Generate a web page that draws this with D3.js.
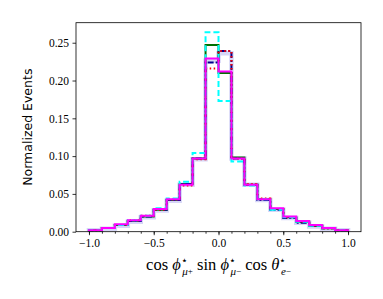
<!DOCTYPE html>
<html>
<head>
<meta charset="utf-8">
<script src="https://cdn.jsdelivr.net/npm/d3@7"></script>
<style>
  body { margin: 0; background: #fff; }
  svg text { fill: #000; }
  .serif { font-family: "Liberation Serif", "DejaVu Serif", serif; }
</style>
</head>
<body>
<div id="chart"></div>
<script>
// Histogram bins: 20 equal bins from -1 to 1
const binEdges = d3.range(21).map(i => -1 + i * 0.1);

// Normalized counts per bin, one array per sample
const greenVals   = [0.002, 0.005, 0.009, 0.014, 0.020, 0.029, 0.042, 0.063, 0.097, 0.247, 0.210, 0.098, 0.062, 0.043, 0.030, 0.019, 0.013, 0.008, 0.0045, 0.002];
const navyVals    = [0.002, 0.005, 0.009, 0.014, 0.020, 0.029, 0.042, 0.063, 0.097, 0.224, 0.239, 0.097, 0.062, 0.042, 0.029, 0.018, 0.012, 0.008, 0.0045, 0.002];
const redVals     = [0.002, 0.005, 0.009, 0.015, 0.021, 0.029, 0.043, 0.061, 0.096, 0.216, 0.239, 0.097, 0.063, 0.044, 0.030, 0.019, 0.013, 0.008, 0.0045, 0.002];
const cyanVals    = [0.002, 0.005, 0.009, 0.015, 0.021, 0.031, 0.044, 0.066, 0.104, 0.264, 0.173, 0.093, 0.061, 0.043, 0.029, 0.019, 0.013, 0.008, 0.005, 0.002];
const magentaVals = [0.002, 0.005, 0.010, 0.015, 0.021, 0.030, 0.043, 0.062, 0.097, 0.229, 0.212, 0.097, 0.062, 0.043, 0.031, 0.020, 0.014, 0.009, 0.005, 0.002];
const haloVals    = [0.002, 0.004, 0.008, 0.013, 0.019, 0.028, 0.041, 0.062, 0.096, 0.226, 0.236, 0.097, 0.062, 0.042, 0.029, 0.018, 0.012, 0.007, 0.004, 0.002];

const xTicks = [-1.0, -0.5, 0.0, 0.5, 1.0];
const xMinorTicks = d3.range(-10, 11).map(i => i / 10);
const yTicks = [0.00, 0.05, 0.10, 0.15, 0.20, 0.25];

// Figure layout
const width = 383, height = 299;
const margin = { top: 22.7, right: 22, bottom: 67.3, left: 76 };

const series = [
    { vals: haloVals,    color: "#b4b4f0", width: 4.5, dash: null,      opacity: 0.55 },
    { vals: greenVals,   color: "#007000", width: 2,   dash: null,      opacity: 1 },
    { vals: navyVals,    color: "#00008b", width: 2,   dash: "6,2,2,2", opacity: 1 },
    { vals: redVals,     color: "#ff0000", width: 2,   dash: "1.5,2.5", opacity: 1 },
    { vals: cyanVals,    color: "#00ffff", width: 2,   dash: "6,3",     opacity: 1 },
    { vals: magentaVals, color: "#ff00ff", width: 2,   dash: null,      opacity: 1 }
];

const svg = d3.select("#chart").append("svg")
    .attr("width", width)
    .attr("height", height);

const x = d3.scaleLinear()
    .domain([-1.1, 1.1])
    .range([margin.left, width - margin.right]);

const y = d3.scaleLinear()
    .domain([0, 0.2765])
    .range([height - margin.bottom, margin.top]);

svg.append("clipPath").attr("id", "clip")
    .append("rect")
    .attr("x", margin.left).attr("y", margin.top)
    .attr("width", width - margin.left - margin.right)
    .attr("height", height - margin.top - margin.bottom);

// step outline like histtype='step'
function stepPoints(vals) {
    const pts = [[binEdges[0], 0]];
    vals.forEach((v, i) => {
        pts.push([binEdges[i], v]);
        pts.push([binEdges[i + 1], v]);
    });
    pts.push([binEdges[binEdges.length - 1], 0]);
    return pts;
}

const line = d3.line()
    .x(d => x(d[0]))
    .y(d => y(d[1]));

svg.append("g").attr("clip-path", "url(#clip)")
    .selectAll("path")
    .data(series)
    .enter()
    .append("path")
    .attr("fill", "none")
    .attr("stroke", d => d.color)
    .attr("stroke-width", d => d.width)
    .attr("stroke-opacity", d => d.opacity)
    .attr("stroke-dasharray", d => d.dash)
    .attr("stroke-linejoin", "miter")
    .attr("d", d => line(stepPoints(d.vals)));

// Axes
const xAxis = svg.append("g")
    .attr("transform", `translate(0,${height - margin.bottom})`)
    .call(d3.axisBottom(x).tickValues(xTicks).tickSizeOuter(0).tickSize(3.5).tickPadding(3.5)
        .tickFormat(d => d3.format(".1f")(d).replace("-", "\u2212")));
xAxis.select(".domain").remove();
xAxis.attr("font-family", null).attr("font-size", null);
xAxis.selectAll("text").attr("class", "serif").style("font-size", "11.5px");

svg.append("g")
    .attr("transform", `translate(0,${height - margin.bottom})`)
    .call(d3.axisBottom(x).tickValues(xMinorTicks).tickSize(2).tickFormat(""))
    .call(g => g.select(".domain").remove());

const yAxis = svg.append("g")
    .attr("transform", `translate(${margin.left},0)`)
    .call(d3.axisLeft(y).tickValues(yTicks).tickSize(3.5).tickPadding(3.5).tickFormat(d3.format(".2f")));
yAxis.select(".domain").remove();
yAxis.attr("font-family", null).attr("font-size", null);
yAxis.selectAll("text").attr("class", "serif").style("font-size", "11.5px");

svg.selectAll(".tick line").attr("stroke", "#000").attr("stroke-width", 0.8);

// frame
svg.append("rect")
    .attr("x", margin.left).attr("y", margin.top)
    .attr("width", width - margin.left - margin.right)
    .attr("height", height - margin.top - margin.bottom)
    .attr("fill", "none")
    .attr("stroke", "#000")
    .attr("stroke-width", 0.8);

// Axis labels
svg.append("text")
    .attr("transform", `translate(28,${(margin.top + height - margin.bottom) / 2}) rotate(-90)`)
    .attr("text-anchor", "middle")
    .attr("dominant-baseline", "middle")
    .style("font-family", "'DejaVu Sans', sans-serif")
    .style("font-size", "12.5px")
    .text("Normalized Events");

const xl = svg.append("text")
    .attr("class", "serif")
    .attr("x", (margin.left + width - margin.right) / 2)
    .attr("y", 270)
    .attr("text-anchor", "middle")
    .style("font-size", "16.5px");
xl.append("tspan").text("cos ");
xl.append("tspan").style("font-style", "italic").text("\u03d5");
xl.append("tspan").attr("dy", -6).style("font-size", "11px").text("\u22c6");
xl.append("tspan").attr("dx", -5.5).attr("dy", 11).style("font-size", "11px").style("font-style", "italic").text("\u03bc");
xl.append("tspan").attr("dy", -1).style("font-size", "9px").text("+");
xl.append("tspan").attr("dy", -4).text(" sin ");
xl.append("tspan").style("font-style", "italic").text("\u03d5");
xl.append("tspan").attr("dy", -6).style("font-size", "11px").text("\u22c6");
xl.append("tspan").attr("dx", -5.5).attr("dy", 11).style("font-size", "11px").style("font-style", "italic").text("\u03bc");
xl.append("tspan").attr("dy", -1).style("font-size", "9px").text("\u2212");
xl.append("tspan").attr("dy", -4).text(" cos ");
xl.append("tspan").style("font-style", "italic").text("\u03b8");
xl.append("tspan").attr("dy", -6).style("font-size", "11px").text("\u22c6");
xl.append("tspan").attr("dx", -5.5).attr("dy", 11).style("font-size", "11px").style("font-style", "italic").text("e");
xl.append("tspan").attr("dy", -1).style("font-size", "9px").text("\u2212");
</script>
</body>
</html>
